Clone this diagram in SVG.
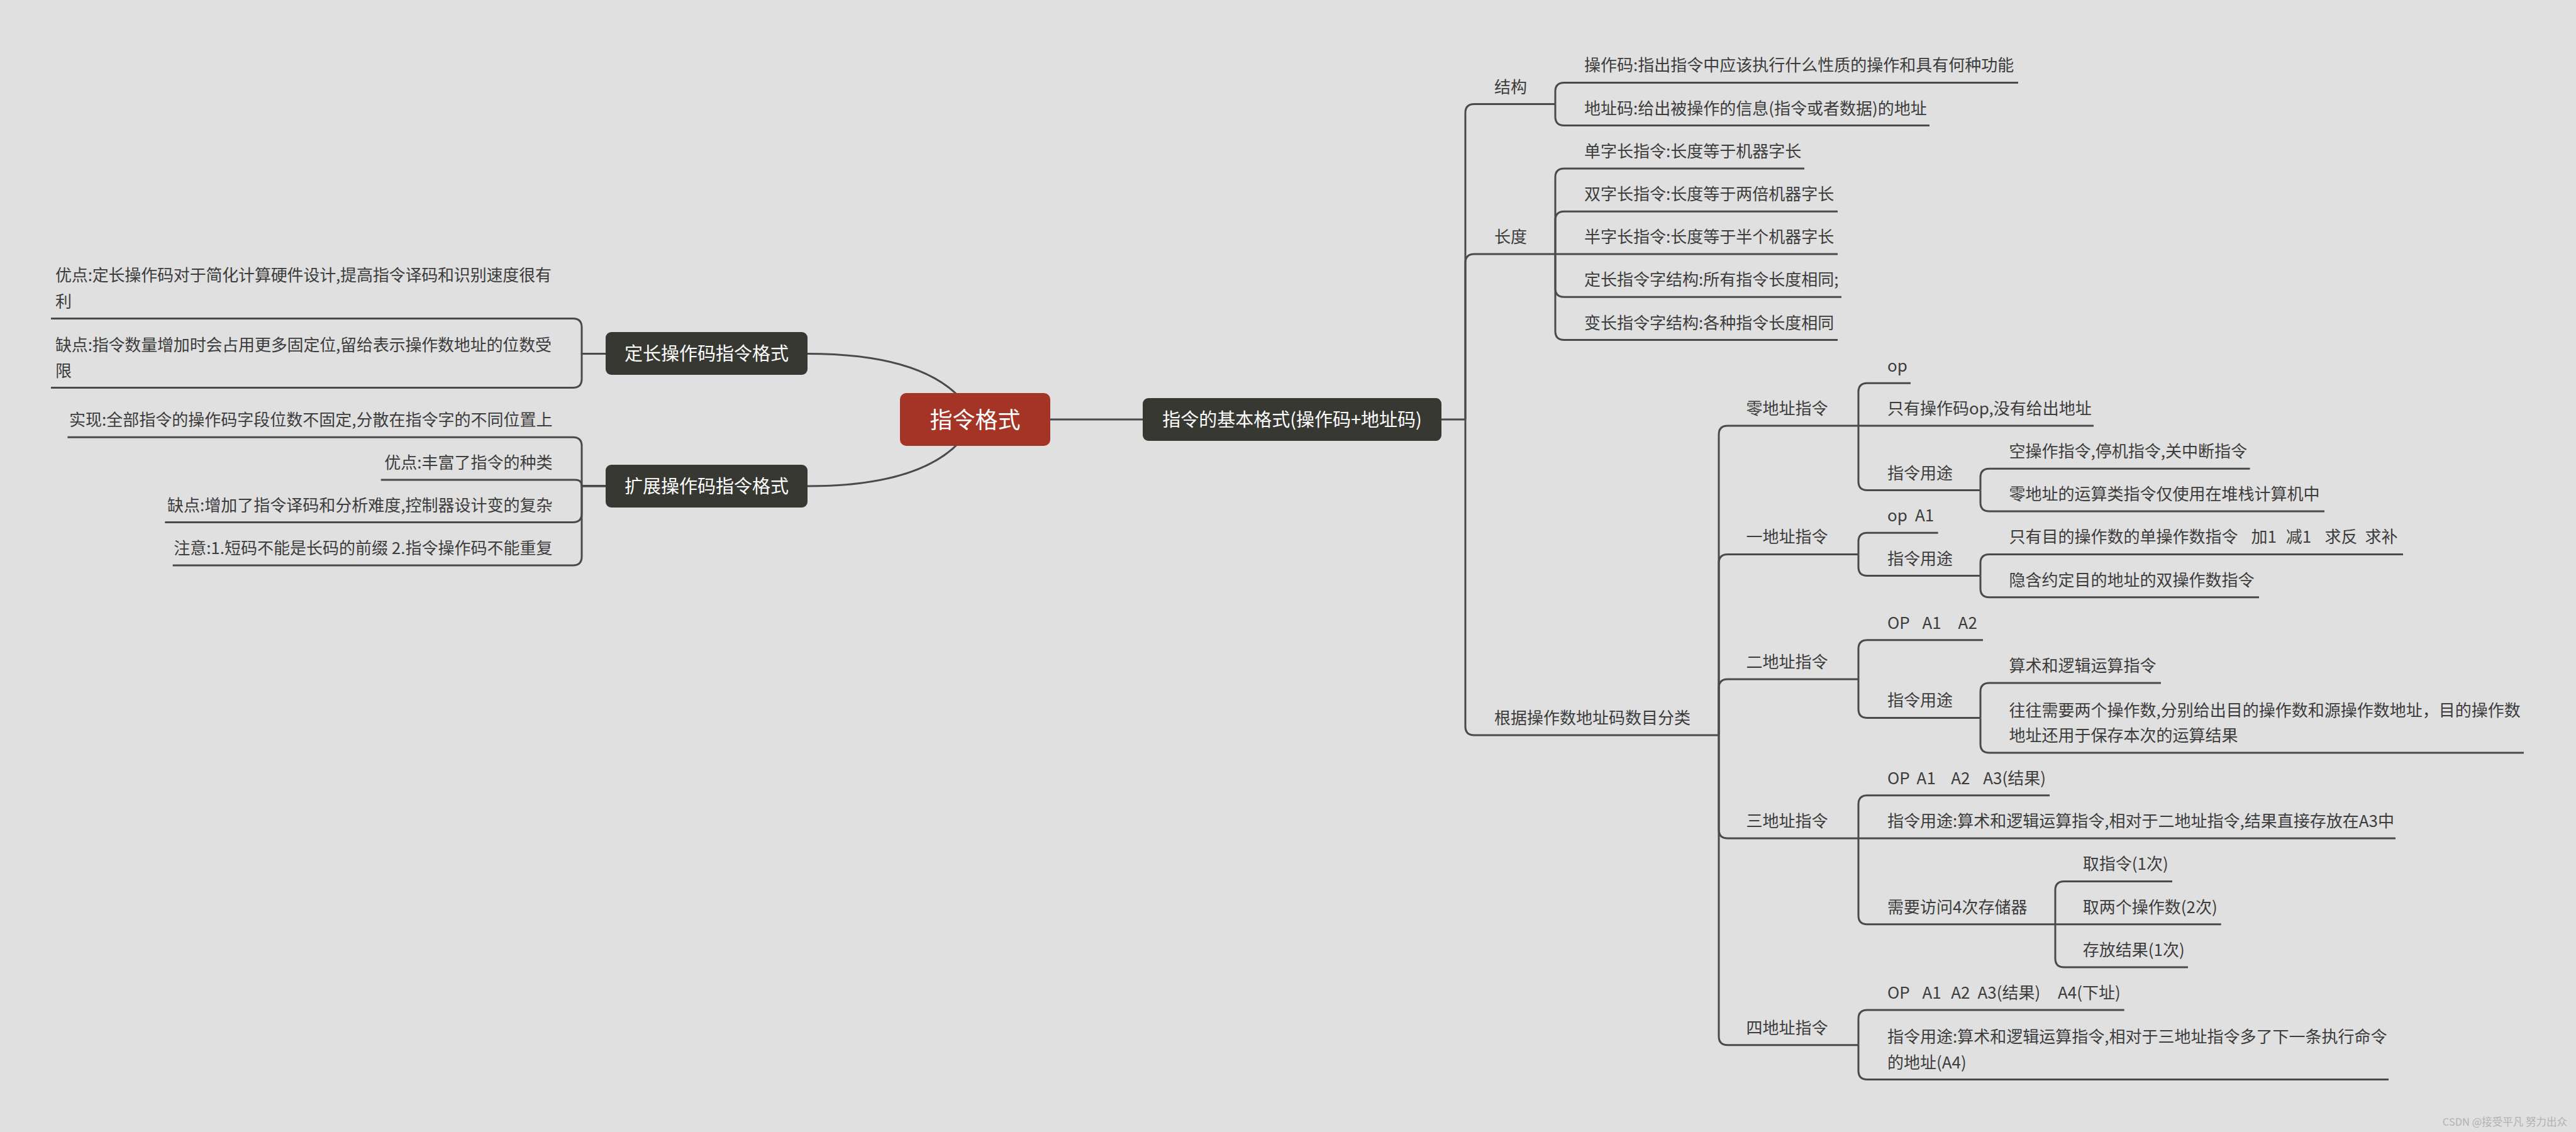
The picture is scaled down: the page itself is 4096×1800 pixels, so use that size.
<svg xmlns="http://www.w3.org/2000/svg" width="4096" height="1800" viewBox="0 0 4096 1800">
<style>
.ln{fill:none;stroke:#4a4a4e;stroke-width:3;stroke-linejoin:round}
.t{font-family:"Noto Sans CJK SC","Noto Sans",sans-serif;font-size:26px;fill:#3c3c3c}
.te{text-anchor:end}
.pre{white-space:pre}
.box{fill:#383832}
.nt{font-family:"Noto Sans CJK SC","Noto Sans",sans-serif;font-size:29px;fill:#ffffff;text-anchor:middle}
.ct{font-size:36px}
.wm{font-family:"Noto Sans CJK SC","Noto Sans",sans-serif;font-size:16.5px;fill:#b2b2b2;text-anchor:end}
</style>
<rect x="0" y="0" width="4096" height="1800" fill="#e0e0e0"/>

<g id="connectors">
  <path class="ln" d="M1284 562.5 Q1500 562.5 1550.5 667"/>
  <path class="ln" d="M1284 773 Q1500 773 1550.5 667"/>
  <path class="ln" d="M1670 667 H1817"/>
  <path class="ln" d="M2292 667 H2330"/>
  <path class="ln" d="M2330 667 V179.6 Q2330 165.6 2344 165.6 H2473"/>
  <path class="ln" d="M2330 667 V418 Q2330 404 2344 404 H2473"/>
  <path class="ln" d="M2330 667 V1155 Q2330 1169 2344 1169 H2733"/>
  <path class="ln" d="M2473 165.6 V145.4 Q2473 131.4 2487 131.4 H3209"/>
  <path class="ln" d="M2473 165.6 V185.6 Q2473 199.6 2487 199.6 H3068"/>
  <path class="ln" d="M2473 404 V282 Q2473 268 2487 268 H2869"/>
  <path class="ln" d="M2473 404 V350.3 Q2473 336.3 2487 336.3 H2922"/>
  <path class="ln" d="M2473 404 H2922"/>
  <path class="ln" d="M2473 404 V458.3 Q2473 472.3 2487 472.3 H2928"/>
  <path class="ln" d="M2473 404 V526.5 Q2473 540.5 2487 540.5 H2922"/>
  <path class="ln" d="M2733 1169 V691 Q2733 677 2747 677 H2955"/>
  <path class="ln" d="M2733 1169 V895.4 Q2733 881.4 2747 881.4 H2955"/>
  <path class="ln" d="M2733 1169 V1094 Q2733 1080 2747 1080 H2955"/>
  <path class="ln" d="M2733 1169 V1319 Q2733 1333 2747 1333 H2955"/>
  <path class="ln" d="M2733 1169 V1647.7 Q2733 1661.7 2747 1661.7 H2955"/>
  <path class="ln" d="M2955 677 V623.2 Q2955 609.2 2969 609.2 H3038"/>
  <path class="ln" d="M2955 677 H3329"/>
  <path class="ln" d="M2955 677 V765.6 Q2955 779.6 2969 779.6 H3149"/>
  <path class="ln" d="M3149 779.6 V759.3 Q3149 745.3 3163 745.3 H3577.5"/>
  <path class="ln" d="M3149 779.6 V799 Q3149 813 3163 813 H3696"/>
  <path class="ln" d="M2955 881.4 V861.2 Q2955 847.2 2969 847.2 H3081.6"/>
  <path class="ln" d="M2955 881.4 V901.6 Q2955 915.6 2969 915.6 H3149"/>
  <path class="ln" d="M3149 915.6 V895.4 Q3149 881.4 3163 881.4 H3821"/>
  <path class="ln" d="M3149 915.6 V935.8 Q3149 949.8 3163 949.8 H3592"/>
  <path class="ln" d="M2955 1080 V1031.7 Q2955 1017.7 2969 1017.7 H3153"/>
  <path class="ln" d="M2955 1080 V1127.4 Q2955 1141.4 2969 1141.4 H3149"/>
  <path class="ln" d="M3149 1141.4 V1099.9 Q3149 1085.9 3163 1085.9 H3436"/>
  <path class="ln" d="M3149 1141.4 V1182.9 Q3149 1196.9 3163 1196.9 H4013"/>
  <path class="ln" d="M2955 1333 V1278.8 Q2955 1264.8 2969 1264.8 H3259"/>
  <path class="ln" d="M2955 1333 H3809"/>
  <path class="ln" d="M2955 1333 V1455.7 Q2955 1469.7 2969 1469.7 H3268"/>
  <path class="ln" d="M3268 1469.7 V1415.4 Q3268 1401.4 3282 1401.4 H3454"/>
  <path class="ln" d="M3268 1469.7 H3531.7"/>
  <path class="ln" d="M3268 1469.7 V1524 Q3268 1538 3282 1538 H3479"/>
  <path class="ln" d="M2955 1661.7 V1620 Q2955 1606 2969 1606 H3377.7"/>
  <path class="ln" d="M2955 1661.7 V1702.5 Q2955 1716.5 2969 1716.5 H3798"/>
  <path class="ln" d="M963 562.5 H925 V520.5 Q925 506.5 911 506.5 H81"/>
  <path class="ln" d="M963 562.5 H925 V602.6 Q925 616.6 911 616.6 H81"/>
  <path class="ln" d="M963 772.8 H925 V709.3 Q925 695.3 911 695.3 H107.4"/>
  <path class="ln" d="M963 772.8 H925 Q925 763 915 763 H605.7"/>
  <path class="ln" d="M963 772.8 H925 V816.5 Q925 830.5 911 830.5 H262.3"/>
  <path class="ln" d="M963 772.8 H925 V885 Q925 899 911 899 H274.6"/>
</g>

<g id="n-root">
  <rect x="1431" y="625" width="239" height="84" rx="10" fill="#a43526"/>
  <text class="nt ct" x="1550.5" y="680.5">指令格式</text>
</g>
<g id="n-basic">
  <rect class="box" x="1817" y="633" width="475" height="68" rx="9"/>
  <text class="nt" x="2054.5" y="677.5">指令的基本格式(操作码+地址码)</text>
</g>
<g id="n-fixed">
  <rect class="box" x="963" y="528" width="321" height="68" rx="9"/>
  <text class="nt" x="1123.5" y="573">定长操作码指令格式</text>
</g>
<g id="n-ext">
  <rect class="box" x="963" y="739" width="321" height="68" rx="9"/>
  <text class="nt" x="1123.5" y="784">扩展操作码指令格式</text>
</g>

<g id="n-fixed-pro"><text class="t" x="88" y="447" textLength="789" lengthAdjust="spacing">优点:定长操作码对于简化计算硬件设计,提高指令译码和识别速度很有</text><text class="t" x="88" y="489">利</text></g>
<g id="n-fixed-con"><text class="t" x="88" y="558" textLength="789" lengthAdjust="spacing">缺点:指令数量增加时会占用更多固定位,留给表示操作数地址的位数受</text><text class="t" x="88" y="599">限</text></g>
<g id="n-ext-impl"><text class="t te" x="878.5" y="677.3">实现:全部指令的操作码字段位数不固定,分散在指令字的不同位置上</text></g>
<g id="n-ext-pro"><text class="t te" x="878.5" y="745">优点:丰富了指令的种类</text></g>
<g id="n-ext-con"><text class="t te" x="878.5" y="812.5">缺点:增加了指令译码和分析难度,控制器设计变的复杂</text></g>
<g id="n-ext-note"><text class="t te" x="878.5" y="881">注意:1.短码不能是长码的前缀 2.指令操作码不能重复</text></g>

<g id="n-struct"><text class="t" x="2376" y="147.6">结构</text></g>
<g id="n-struct-op"><text class="t" x="2519" y="113.4">操作码:指出指令中应该执行什么性质的操作和具有何种功能</text></g>
<g id="n-struct-addr"><text class="t" x="2519" y="181.6">地址码:给出被操作的信息(指令或者数据)的地址</text></g>

<g id="n-len"><text class="t" x="2376" y="386">长度</text></g>
<g id="n-len-1"><text class="t" x="2519" y="250">单字长指令:长度等于机器字长</text></g>
<g id="n-len-2"><text class="t" x="2519" y="318.3">双字长指令:长度等于两倍机器字长</text></g>
<g id="n-len-3"><text class="t" x="2519" y="386">半字长指令:长度等于半个机器字长</text></g>
<g id="n-len-4"><text class="t" x="2519" y="454.3">定长指令字结构:所有指令长度相同;</text></g>
<g id="n-len-5"><text class="t" x="2519" y="522.5">变长指令字结构:各种指令长度相同</text></g>

<g id="n-class"><text class="t" x="2376" y="1151">根据操作数地址码数目分类</text></g>

<g id="n-zero"><text class="t" x="2776.5" y="659">零地址指令</text></g>
<g id="n-zero-op"><text class="t" x="3001" y="591.2">op</text></g>
<g id="n-zero-only"><text class="t" x="3001" y="659">只有操作码op,没有给出地址</text></g>
<g id="n-zero-use"><text class="t" x="3001" y="761.6">指令用途</text></g>
<g id="n-zero-use-1"><text class="t" x="3194.6" y="727.3">空操作指令,停机指令,关中断指令</text></g>
<g id="n-zero-use-2"><text class="t" x="3194.6" y="795">零地址的运算类指令仅使用在堆栈计算机中</text></g>

<g id="n-one"><text class="t" x="2776.5" y="863.4">一地址指令</text></g>
<g id="n-one-fmt"><text class="t pre" xml:space="preserve" x="3001" y="829.2">op  <tspan x="3044.9">A1</tspan></text></g>
<g id="n-one-use"><text class="t" x="3001" y="897.6">指令用途</text></g>
<g id="n-one-use-1"><text class="t pre" xml:space="preserve" x="3194.6" y="863.4">只有目的操作数的单操作数指令   <tspan x="3579.4">加1  </tspan><tspan x="3634.8">减1   </tspan><tspan x="3696.4">求反  </tspan><tspan x="3760.6">求补</tspan></text></g>
<g id="n-one-use-2"><text class="t" x="3194.6" y="931.8">隐含约定目的地址的双操作数指令</text></g>

<g id="n-two"><text class="t" x="2776.5" y="1062">二地址指令</text></g>
<g id="n-two-fmt"><text class="t pre" xml:space="preserve" x="3001" y="999.7">OP   <tspan x="3056.4">A1    </tspan><tspan x="3113.6">A2</tspan></text></g>
<g id="n-two-use"><text class="t" x="3001" y="1123.4">指令用途</text></g>
<g id="n-two-use-1"><text class="t" x="3194.6" y="1067.9">算术和逻辑运算指令</text></g>
<g id="n-two-use-2"><text class="t" x="3194.6" y="1138.5">往往需要两个操作数,分别给出目的操作数和源操作数地址，目的操作数</text><text class="t" x="3194.6" y="1179">地址还用于保存本次的运算结果</text></g>

<g id="n-three"><text class="t" x="2776.5" y="1315">三地址指令</text></g>
<g id="n-three-fmt"><text class="t pre" xml:space="preserve" x="3001" y="1246.8">OP  <tspan x="3047.6">A1   </tspan><tspan x="3102.2">A2   </tspan><tspan x="3153.2">A3(结果)</tspan></text></g>
<g id="n-three-use"><text class="t" x="3001" y="1315">指令用途:算术和逻辑运算指令,相对于二地址指令,结果直接存放在A3中</text></g>
<g id="n-three-mem"><text class="t" x="3001" y="1451.7">需要访问4次存储器</text></g>
<g id="n-three-mem-1"><text class="t" x="3311.7" y="1383.4">取指令(1次)</text></g>
<g id="n-three-mem-2"><text class="t" x="3311.7" y="1451.7">取两个操作数(2次)</text></g>
<g id="n-three-mem-3"><text class="t" x="3311.7" y="1520">存放结果(1次)</text></g>

<g id="n-four"><text class="t" x="2776.5" y="1643.7">四地址指令</text></g>
<g id="n-four-fmt"><text class="t pre" xml:space="preserve" x="3001" y="1588">OP   <tspan x="3056.4">A1  </tspan><tspan x="3102.2">A2  </tspan><tspan x="3144.4">A3(结果)    </tspan><tspan x="3272">A4(下址)</tspan></text></g>
<g id="n-four-use"><text class="t" x="3001" y="1657.5">指令用途:算术和逻辑运算指令,相对于三地址指令多了下一条执行命令</text><text class="t" x="3001" y="1698.5">的地址(A4)</text></g>

<text class="wm" x="4082" y="1790">CSDN @接受平凡 努力出众</text>
</svg>
